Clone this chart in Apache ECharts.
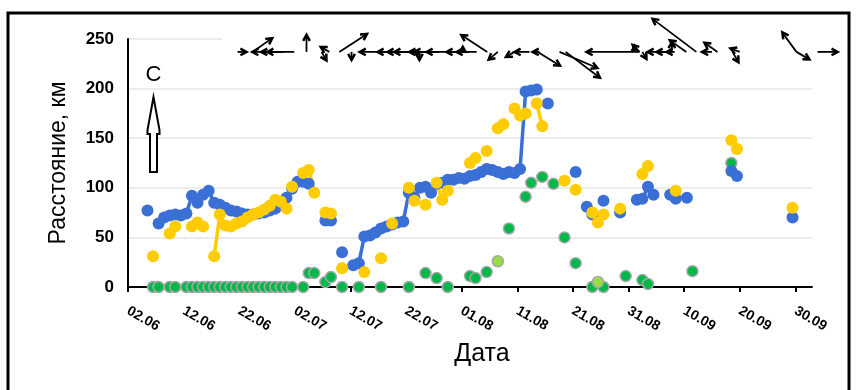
<!DOCTYPE html>
<html>
<head>
    <meta charset="utf-8">
    <title>ECharts</title>
    <script src="https://cdn.jsdelivr.net/npm/echarts@6/dist/echarts.min.js"></script>
</head>
<body style="margin:0">
<div id="main" style="width: 859px;height:390px;"></div>
<script type="text/javascript">
    // расстояние, км  [дата, значение]
    var blue = [
        ['05.06', 77], ['07.06', 64], ['08.06', 70], ['09.06', 72], ['10.06', 73], ['11.06', 72], ['12.06', 74],
        ['13.06', 92], ['14.06', 85], ['15.06', 93], ['16.06', 97], ['17.06', 85], ['18.06', 83], ['19.06', 80],
        ['20.06', 77], ['21.06', 76], ['22.06', 74], ['23.06', 73], ['24.06', 73], ['25.06', 74], ['26.06', 75],
        ['27.06', 77], ['28.06', 79], ['29.06', 86], ['30.06', 90], ['01.07', 99], ['02.07', 106], ['03.07', 106],
        ['04.07', 104], ['07.07', 67], ['08.07', 67], ['10.07', 35], ['12.07', 22], ['13.07', 24], ['14.07', 51],
        ['15.07', 52], ['16.07', 55], ['17.07', 59], ['18.07', 61], ['19.07', 63], ['20.07', 65], ['21.07', 66],
        ['22.07', 95], ['23.07', 90], ['24.07', 100], ['25.07', 101], ['26.07', 95], ['27.07', 104], ['28.07', 105],
        ['29.07', 108], ['30.07', 108], ['31.07', 110], ['01.08', 109], ['02.08', 112], ['03.08', 113], ['04.08', 116],
        ['05.08', 119], ['06.08', 118], ['07.08', 116], ['08.08', 114], ['09.08', 116], ['10.08', 115], ['11.08', 119],
        ['12.08', 197], ['13.08', 198], ['14.08', 199], ['16.08', 185], ['21.08', 116], ['23.08', 81], ['24.08', 73],
        ['26.08', 87], ['29.08', 75], ['01.09', 88], ['02.09', 89], ['03.09', 101], ['04.09', 93], ['07.09', 93],
        ['08.09', 89], ['10.09', 90], ['18.09', 117], ['19.09', 112], ['29.09', 70]
    ];
    var yellow = [
        ['06.06', 31], ['09.06', 54], ['10.06', 61], ['13.06', 61], ['14.06', 65], ['15.06', 61], ['17.06', 31],
        ['18.06', 73], ['19.06', 62], ['20.06', 61], ['21.06', 64], ['22.06', 66], ['23.06', 70], ['24.06', 73],
        ['25.06', 75], ['26.06', 78], ['27.06', 82], ['28.06', 88], ['29.06', 86], ['30.06', 79], ['01.07', 101],
        ['03.07', 115], ['04.07', 118], ['05.07', 95], ['07.07', 75], ['08.07', 74], ['10.07', 19], ['14.07', 15],
        ['17.07', 29], ['19.07', 64], ['22.07', 100], ['23.07', 87], ['25.07', 83], ['27.07', 105], ['28.07', 88],
        ['29.07', 97], ['02.08', 125], ['03.08', 130], ['05.08', 137], ['07.08', 160], ['08.08', 164], ['10.08', 180],
        ['11.08', 173], ['12.08', 175], ['14.08', 185], ['15.08', 162], ['19.08', 107], ['21.08', 98], ['24.08', 75],
        ['25.08', 65], ['26.08', 73], ['29.08', 79], ['02.09', 114], ['03.09', 122], ['08.09', 97], ['18.09', 148],
        ['19.09', 139], ['29.09', 80]
    ];
    var green = [
        ['06.06', 0], ['07.06', 0], ['09.06', 0], ['10.06', 0], ['12.06', 0], ['13.06', 0], ['14.06', 0], ['15.06', 0],
        ['16.06', 0], ['17.06', 0], ['18.06', 0], ['19.06', 0], ['20.06', 0], ['21.06', 0], ['22.06', 0], ['23.06', 0],
        ['24.06', 0], ['25.06', 0], ['26.06', 0], ['27.06', 0], ['28.06', 0], ['29.06', 0], ['30.06', 0], ['01.07', 0],
        ['03.07', 0], ['04.07', 14], ['05.07', 14], ['07.07', 5], ['08.07', 10], ['10.07', 0], ['13.07', 0],
        ['17.07', 0], ['22.07', 0], ['25.07', 14], ['27.07', 9], ['29.07', 0], ['02.08', 11], ['03.08', 9],
        ['05.08', 15], ['09.08', 59], ['12.08', 91], ['13.08', 105], ['15.08', 111], ['17.08', 104], ['19.08', 50],
        ['21.08', 24], ['24.08', 0], ['26.08', 0], ['30.08', 11], ['02.09', 7], ['03.09', 3], ['11.09', 16],
        ['18.09', 125]
    ];
    var greenLight = [['07.08', 26], ['25.08', 5]];

    // ветер над графиком: день от 02.06, направление (куда, град.), сила
    var windDay = [19.7, 29.9, 28.1, 27.2, 22.4, 32.1, 36.2, 34.8, 38.0, 40.2, 62.7, 48.8, 50.6, 51.5, 54.2, 55.1,
        56.0, 52.4, 60.5, 61.4, 60.2, 64.6, 66.5, 69.5, 72.2, 74.0, 73.7, 77.6, 78.7, 92.0, 92.0, 92.5, 91.1, 97.9,
        97.9, 98.3, 102.2, 100.4, 97.8, 105.0, 106.0, 108.7, 110.0, 120.2, 120.2, 124.0];
    var windDir = [90, 270, 270, 270, 55, 0, 300, 150, 57, 180, 270, 270, 270, 270, 270, 270,
        270, 180, 270, 270, 0, 303, 230, 240, 270, 270, 122, 113, 127, 270, 315, 150, 0, 270,
        270, 270, 307, 305, 0, 270, 305, 150, 290, 324, 120, 90];
    var windSpeed = [3, 14, 7.7, 4, 8, 5.7, 3.3, 3.3, 11, 2.7, 39, 7.3, 7.3, 6.7, 6.7, 6.7,
        4.3, 2.7, 6, 4.3, 1.7, 10.3, 4, 3.3, 5, 2.3, 8.7, 13.7, 14.3, 17.7, 3.3, 2.7, 2, 8.3,
        5.3, 2.7, 18.3, 6.7, 3.3, 3.3, 5.3, 4, 3.3, 8, 5, 6.7];

    var tickDays = [0, 10, 20, 30, 40, 50, 60, 70, 80, 90, 100, 110, 120];

    var start = Date.UTC(2020, 5, 2);
    function dayOf(s) {
        var p = s.split('.');
        return (Date.UTC(2020, +p[1] - 1, +p[0]) - start) / 864e5;
    }
    function labelOf(d) {
        var t = new Date(start + d * 864e5);
        var dd = t.getUTCDate(), mm = t.getUTCMonth() + 1;
        return (dd < 10 ? '0' : '') + dd + '.' + (mm < 10 ? '0' : '') + mm;
    }
    // точка стоит в середине своего дня, пропуски рвут линию
    function toPoints(arr) {
        var out = [], prev = null;
        arr.forEach(function (p) {
            var d = dayOf(p[0]);
            if (prev !== null && d - prev > 1) out.push([prev + 1.5, '-']);
            out.push([d + 0.5, p[1]]);
            prev = d;
        });
        return out;
    }

    var myChart = echarts.init(document.getElementById('main'));

    var font = '"Liberation Sans", Arial, sans-serif';

    myChart.setOption({
        animation: false,
        backgroundColor: '#fff',
        grid: {left: 128, top: 39, width: 684, height: 248},
        xAxis: {
            type: 'value',
            min: 0,
            max: 123,
            interval: 10,
            name: 'Дата',
            nameLocation: 'middle',
            nameGap: 55,
            nameTextStyle: {fontSize: 25, color: '#000', fontFamily: font, padding: [0, 0, 0, 24]},
            axisLine: {lineStyle: {color: '#000', width: 2}},
            axisTick: {customValues: tickDays, length: 5, lineStyle: {color: '#000', width: 2}},
            axisLabel: {
                customValues: tickDays,
                rotate: -30,
                margin: 23,
                fontSize: 14,
                fontWeight: 'bold',
                color: '#000',
                fontFamily: font,
                formatter: function (v) { return labelOf(v); }
            },
            splitLine: {show: false}
        },
        yAxis: {
            type: 'value',
            min: 0,
            max: 250,
            interval: 50,
            name: 'Расстояние, км',
            nameLocation: 'middle',
            nameGap: 58,
            nameTextStyle: {fontSize: 23, color: '#000', fontFamily: font},
            axisLine: {show: true, lineStyle: {color: '#000', width: 2}},
            axisTick: {show: false},
            axisLabel: {fontSize: 17, fontWeight: 'bold', color: '#000', margin: 14, fontFamily: font},
            splitLine: {lineStyle: {color: '#e6e6e6', width: 1.5}}
        },
        graphic: [
            {type: 'rect', z: 1, shape: {x: 222, y: 32, width: 600, height: 14}, style: {fill: '#fff'}},
            {type: 'rect', z: 10, shape: {x: 8, y: 13, width: 841, height: 400},
                style: {fill: null, stroke: '#000', lineWidth: 3}},
            {type: 'text', z: 10, style: {x: 153.5, y: 75, text: 'С', fill: '#000', font: '22px ' + font,
                    textAlign: 'center', textVerticalAlign: 'middle'}},
            {type: 'polygon', z: 10, shape: {points: [[153.5, 97], [147.5, 130], [147.5, 134], [150, 134],
                        [150, 172], [157, 172], [157, 134], [159.5, 134], [159.5, 130]]},
                style: {fill: '#fff', stroke: '#000', lineWidth: 2}}
        ],
        series: [
            {
                type: 'line',
                data: toPoints(blue),
                symbol: 'circle',
                symbolSize: 12,
                connectNulls: false,
                lineStyle: {color: '#3a6fd6', width: 3.5},
                itemStyle: {color: '#3a6fd6'}
            },
            {
                type: 'line',
                data: toPoints(yellow),
                symbol: 'circle',
                symbolSize: 12,
                connectNulls: false,
                lineStyle: {color: '#ffcc00', width: 3.5},
                itemStyle: {color: '#ffcc00'}
            },
            {
                type: 'scatter',
                data: toPoints(green),
                symbolSize: 11,
                itemStyle: {color: '#00b84a', borderColor: '#a8a8a8', borderWidth: 1.5, opacity: 1}
            },
            {
                type: 'scatter',
                data: toPoints(greenLight),
                symbolSize: 11,
                itemStyle: {color: '#99dd44', borderColor: '#a8a8a8', borderWidth: 1.5, opacity: 1}
            },
            {
                type: 'custom',
                clip: false,
                silent: true,
                z: 5,
                data: windDay.map(function (d, i) { return [d, windDir[i], windSpeed[i]]; }),
                encode: {x: 0, y: 1},
                renderItem: function (params, api) {
                    var p = api.coord([api.value(0), 237]);
                    var a = api.value(1) * Math.PI / 180;
                    var len = api.value(2) * 3;
                    var tx = p[0] + len * Math.sin(a), ty = p[1] - len * Math.cos(a);
                    var ang = Math.atan2(ty - p[1], tx - p[0]);
                    var h = 7, w = 0.5;
                    var h1 = [tx - h * Math.cos(ang - w), ty - h * Math.sin(ang - w)];
                    var h2 = [tx - h * Math.cos(ang + w), ty - h * Math.sin(ang + w)];
                    return {
                        type: 'group',
                        children: [
                            {type: 'line', shape: {x1: p[0], y1: p[1], x2: tx, y2: ty},
                                style: {stroke: '#000', lineWidth: 1.8}},
                            {type: 'polyline', shape: {points: [h1, [tx, ty], h2]},
                                style: {stroke: '#000', lineWidth: 2.5, fill: null}}
                        ]
                    };
                }
            }
        ]
    });
</script>
</body>
</html>
